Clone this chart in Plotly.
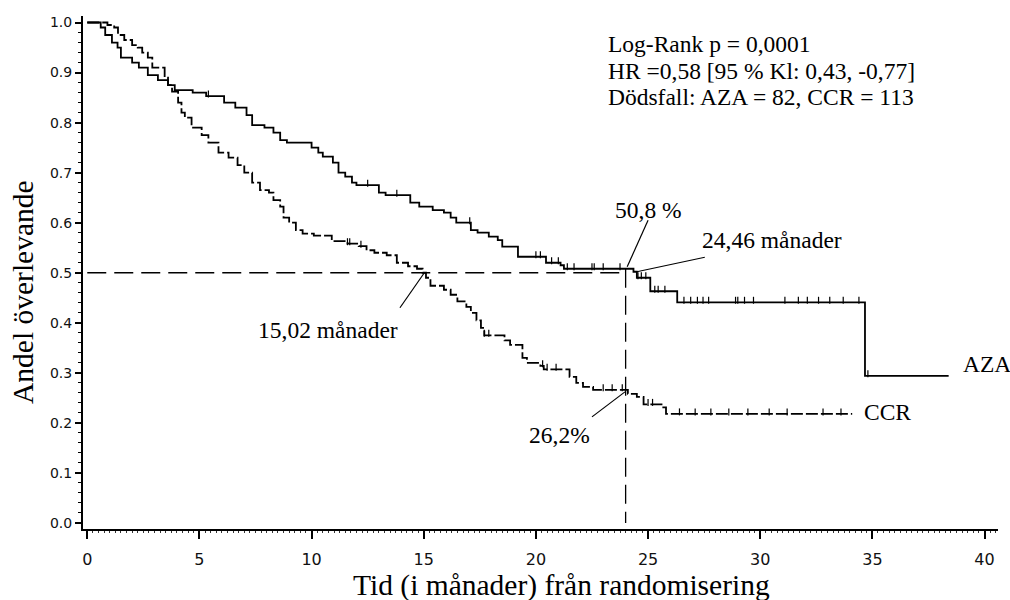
import numpy as np
import plotly.graph_objects as go

# ---------------- data ----------------
aza_t = [0, 0.6, 0.8, 1.1, 1.35, 1.5, 2.0, 2.3, 2.7, 3.15, 3.6, 3.9, 4.7, 5.3, 6.1, 6.6,
         7.1, 7.35, 7.9, 8.3, 8.6, 8.9, 10.0, 10.3, 10.5, 10.95, 11.2, 11.5, 11.8, 12.0,
         13.0, 13.3, 14.4, 14.8, 15.4, 15.9, 16.2, 16.45, 17.1, 17.4, 17.9, 18.3, 18.5,
         19.2, 20.45, 21.1, 21.25, 24.35, 24.5, 25.1, 26.3, 34.67]
aza_s = [1.0, 0.99, 0.975, 0.96, 0.95, 0.93, 0.92, 0.91, 0.895, 0.885, 0.875, 0.865, 0.86,
         0.853, 0.84, 0.83, 0.815, 0.795, 0.79, 0.78, 0.765, 0.76, 0.75, 0.74, 0.732, 0.72,
         0.70, 0.692, 0.68, 0.675, 0.66, 0.655, 0.64, 0.632, 0.625, 0.62, 0.61, 0.60, 0.585,
         0.58, 0.572, 0.565, 0.552, 0.532, 0.52, 0.515, 0.508, 0.502, 0.49, 0.463, 0.441, 0.294]
aza_end = 38.4

ccr_t = [0, 0.9, 1.2, 1.37, 1.65, 2.0, 2.25, 2.45, 2.7, 2.9, 3.45, 3.6, 3.78, 4.05, 4.2,
         4.35, 4.65, 5.1, 5.4, 5.85, 6.3, 6.7, 7.0, 7.35, 7.7, 8.1, 8.3, 8.6, 8.75, 9.0,
         9.3, 9.6, 10.1, 10.9, 11.6, 12.1, 12.45, 12.8, 13.35, 13.8, 14.3, 14.7, 14.95,
         15.1, 15.3, 15.9, 16.2, 16.5, 16.9, 17.1, 17.35, 17.55, 17.7, 18.6, 18.85, 19.4,
         19.6, 20.2, 20.35, 21.5, 21.8, 22.1, 22.55, 24.1, 24.5, 24.8, 25.6, 25.8]
ccr_s = [1.0, 0.995, 0.99, 0.975, 0.965, 0.955, 0.95, 0.94, 0.93, 0.91, 0.89, 0.875, 0.862,
         0.84, 0.82, 0.81, 0.79, 0.775, 0.76, 0.74, 0.73, 0.715, 0.70, 0.68, 0.665, 0.66,
         0.645, 0.632, 0.61, 0.60, 0.585, 0.578, 0.574, 0.563, 0.558, 0.553, 0.545, 0.54,
         0.535, 0.52, 0.513, 0.508, 0.50, 0.49, 0.474, 0.466, 0.456, 0.443, 0.432, 0.42,
         0.405, 0.39, 0.375, 0.365, 0.356, 0.33, 0.32, 0.314, 0.307, 0.292, 0.28, 0.272,
         0.266, 0.258, 0.252, 0.237, 0.231, 0.218]
ccr_end = 34.1

# censored observations (months)
aza_cens = [5.4, 12.5, 13.8, 17.05, 20.0, 20.2, 20.7, 21.0, 21.4, 21.7, 22.5, 22.6, 23.0,
            23.75, 24.55, 24.7, 24.9, 25.3, 25.45, 25.75, 26.6, 26.9, 27.2, 27.45, 27.7,
            28.9, 29.0, 29.3, 29.7, 31.1, 31.7, 32.1, 32.6, 33.1, 33.7, 34.4, 34.8]
ccr_cens = [11.6, 11.7, 12.2, 17.7, 17.9, 20.3, 20.5, 20.9, 23.0, 23.4, 23.85, 25.0, 25.2,
            26.4, 27.1, 27.8, 28.6, 29.45, 30.4, 31.2, 32.8, 33.6]

median_ccr = 15.02
landmark = 24.0
landmark_aza = 0.508
landmark_ccr = 0.262

x_ticks = [0, 5, 10, 15, 20, 25, 30, 35, 40]
y_ticks = [0.0, 0.1, 0.2, 0.3, 0.4, 0.5, 0.6, 0.7, 0.8, 0.9, 1.0]


def step_value(times, surv, t):
    i = np.searchsorted(np.array(times), t, side="right") - 1
    return surv[max(i, 0)]


SERIF = "Liberation Serif"
# plot area in page pixels (body margin removed below)
L, T, W, H = 83, 16, 915, 513

fig = go.Figure()

# reference lines
fig.add_trace(go.Scatter(x=[0, landmark], y=[0.5, 0.5], mode="lines",
                         line=dict(color="black", width=1.3, dash="19px,8px"),
                         showlegend=False, hoverinfo="skip"))
fig.add_trace(go.Scatter(x=[landmark, landmark], y=[landmark_aza, 0], mode="lines",
                         line=dict(color="black", width=1.3, dash="19px,8px"),
                         showlegend=False, hoverinfo="skip"))

# curves
fig.add_trace(go.Scatter(x=aza_t + [aza_end], y=aza_s + [aza_s[-1]], mode="lines",
                         line=dict(color="black", width=1.8, shape="hv"),
                         name="AZA", showlegend=False))
fig.add_trace(go.Scatter(x=ccr_t + [ccr_end], y=ccr_s + [ccr_s[-1]], mode="lines",
                         line=dict(color="black", width=1.8, shape="hv", dash="12px,3px"),
                         name="CCR", showlegend=False))

# censor ticks
fig.add_trace(go.Scatter(x=aza_cens, y=[step_value(aza_t, aza_s, t) + 0.004 for t in aza_cens],
                         mode="markers",
                         marker=dict(symbol="line-ns", size=5, line=dict(color="black", width=1.2)),
                         showlegend=False, hoverinfo="skip"))
fig.add_trace(go.Scatter(x=ccr_cens, y=[step_value(ccr_t, ccr_s, t) + 0.004 for t in ccr_cens],
                         mode="markers",
                         marker=dict(symbol="line-ns", size=5, line=dict(color="black", width=1.2)),
                         showlegend=False, hoverinfo="skip"))

# pointer lines
for x0, y0, x1, y1 in [(25.0, 0.605, 24.07, 0.512),
                       (24.5, 0.502, 27.53, 0.531),
                       (median_ccr, 0.4995, 13.94, 0.43),
                       (landmark - 0.03, landmark_ccr, 22.5, 0.212)]:
    fig.add_shape(type="line", x0=x0, y0=y0, x1=x1, y1=y1, xref="x", yref="y",
                  line=dict(color="black", width=1.2))

TXT = dict(family=SERIF, size=23.5, color="black")
fig.add_annotation(x=23.13, y=0.957, text="Log-Rank p = 0,0001", xanchor="left",
                   showarrow=False, font=TXT)
fig.add_annotation(x=23.13, y=0.903, text="HR =0,58 [95 % Kl: 0,43, -0,77]", xanchor="left",
                   showarrow=False, font=TXT)
fig.add_annotation(x=23.13, y=0.851, text="Dödsfall: AZA = 82, CCR = 113", xanchor="left",
                   showarrow=False, font=TXT)
fig.add_annotation(x=25.0, y=0.625, text="50,8 %", showarrow=False, font=TXT)
fig.add_annotation(x=30.53, y=0.565, text="24,46 månader", showarrow=False, font=TXT)
fig.add_annotation(x=10.73, y=0.386, text="15,02 månader", showarrow=False, font=TXT)
fig.add_annotation(x=21.03, y=0.176, text="26,2%", showarrow=False, font=TXT)
fig.add_annotation(x=38.95, y=0.318, text="AZA", xanchor="left", showarrow=False, font=TXT)
fig.add_annotation(x=34.55, y=0.222, text="CCR", xanchor="left", showarrow=False, font=TXT)

# axis titles
fig.add_annotation(xref="paper", yref="paper", x=(561 - L) / W, y=-(585 - (T + H)) / H,
                   xanchor="center", yanchor="middle",
                   text="Tid (i månader) från randomisering", showarrow=False,
                   font=dict(family=SERIF, size=29.5, color="black"))
fig.add_annotation(xref="paper", yref="paper", x=-(L - 23) / W, y=((T + H) - 292) / H,
                   xanchor="center", yanchor="middle",
                   text="Andel överlevande", showarrow=False, textangle=-90,
                   font=dict(family=SERIF, size=29.5, color="black"))

fig.update_layout(
    width=1010, height=600,
    margin=dict(l=L, r=1010 - L - W, t=T, b=600 - T - H),
    paper_bgcolor="white", plot_bgcolor="white",
    xaxis=dict(range=[-0.19, 40.6], tickvals=x_ticks, ticks="outside", ticklen=8,
               tickwidth=1.5, tickcolor="black", showline=True, linecolor="black",
               linewidth=2, showgrid=False, zeroline=False, automargin=False,
               tickfont=dict(family="DejaVu Sans", size=16, color="#111"),
               ticklabelstandoff=7,
               minor=dict(dtick=0.25, ticks="outside", ticklen=2, tickwidth=1,
                          tickcolor="#333", showgrid=False)),
    yaxis=dict(range=[-0.012, 1.013], tickvals=y_ticks, tickformat=".1f", ticks="outside",
               ticklen=6, tickwidth=1.5, tickcolor="black", showline=True,
               linecolor="black", linewidth=2, showgrid=False, zeroline=False,
               automargin=False,
               tickfont=dict(family="DejaVu Sans", size=14, color="#111"),
               minor=dict(dtick=0.02, tick0=0, ticks="outside", ticklen=3, tickwidth=1.2,
                          tickcolor="black", showgrid=False)),
)

fig.write_html("out.html",
               config={"displayModeBar": False},
               post_script="document.body.style.margin='0';document.body.style.overflow='hidden';")
